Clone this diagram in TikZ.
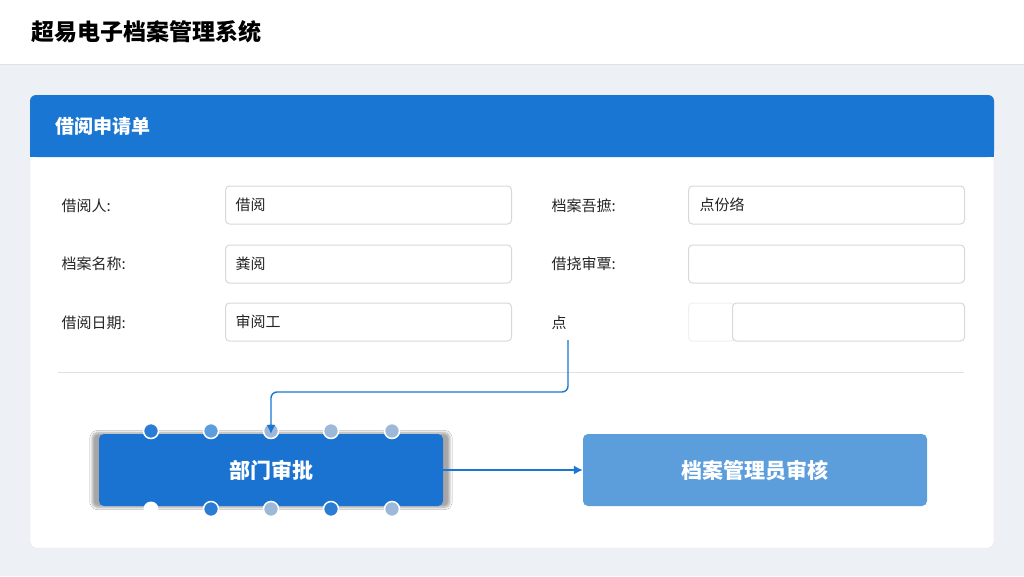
\documentclass[tikz,border=0pt]{standalone}
\usepackage{fontspec}
\setmainfont{Noto Sans CJK SC}
\usetikzlibrary{shadows.blur,arrows.meta}
\definecolor{bg}{HTML}{EDF1F6}
\definecolor{hblue}{HTML}{1976D2}
\definecolor{boxc}{HTML}{1A73D0}
\definecolor{lboxc}{HTML}{5C9EDC}
\definecolor{fieldc}{HTML}{D5D8DC}
\definecolor{dotd}{HTML}{2A7CD4}
\definecolor{dotl}{HTML}{9DB8D8}
\tikzset{
 lbl/.style={anchor=west,font=\fontsize{15}{15}\selectfont,text=black!85},
 fld/.style={draw=fieldc,line width=1pt,fill=white,rounded corners=4pt,minimum width=286pt,minimum height=38pt,anchor=west,inner sep=0pt},
 ftx/.style={anchor=west,font=\fontsize{15}{15}\selectfont,text=black!85},
 dot/.style={circle,draw=white,line width=1.5pt,minimum size=15pt,inner sep=0pt},
 arr/.style={draw=hblue,line width=1.4pt,-{Latex[length=9pt,width=9pt]}}
}
\begin{document}
\begin{tikzpicture}[x=1pt,y=-1pt]
\useasboundingbox (0,0) rectangle (1024,576);
\fill[bg] (0,0) rectangle (1024,576);
\fill[white] (0,0) rectangle (1024,64);
\draw[black!12] (0,64.5) -- (1024,64.5);
\node[anchor=west,font=\bfseries\fontsize{23}{23}\selectfont] (title) at (28,32) {超易电子档案管理系统};
% card
\fill[white,draw=black!12,rounded corners=6pt] (30,95) rectangle (994,548);
\fill[hblue,rounded corners=6pt] (30,95) rectangle (994,157);
\fill[hblue] (30,130) rectangle (994,157);
\node[anchor=west,text=white,font=\bfseries\fontsize{19}{19}\selectfont] (form) at (52,126) {借阅申请单};
% fields left
\node[lbl] (l1) at (58,206) {借阅人:};
\node[lbl] (l2) at (58,264) {档案名称:};
\node[lbl] (l3) at (58,323) {借阅日期:};
\node[fld] (f1) at (225,205) {};
\node[fld] (f2) at (225,264) {};
\node[fld] (f3) at (225,322) {};
\node[ftx] at (232,205) {借阅};
\node[ftx] at (232,264) {粪阅};
\node[ftx] at (232,322) {审阅工};
% right
\node[lbl] (r1) at (548,206) {档案吾摭:};
\node[lbl] (r2) at (548,264) {借挠审覃:};
\node[lbl] (r3) at (548,323) {点};
\node[fld,minimum width=276pt] (g1) at (688,205) {};
\node[fld,minimum width=276pt] (g2) at (688,264) {};
\node[fld,minimum width=46pt,draw=black!6] (g3a) at (688,322) {};
\node[fld,minimum width=232pt] (g3) at (732,322) {};
\node[ftx] at (696,205) {点份络};
% divider
\draw[black!12] (58,372) -- (964,372);
% boxes
\node[fill=boxc,rounded corners=5pt,minimum width=344pt,minimum height=72pt,text=white,font=\bfseries\fontsize{21}{21}\selectfont,blur shadow={shadow blur steps=8,shadow xshift=0pt,shadow yshift=0pt,shadow opacity=35,shadow scale=1.04}] (dept) at (271,470) {部门审批};
\node[fill=lboxc,rounded corners=5pt,minimum width=344pt,minimum height=72pt,text=white,font=\bfseries\fontsize{21}{21}\selectfont] (arch) at (755,470) {档案管理员审核};
% dots
\foreach \x/\c in {151/dotd,211/lboxc,271/dotl,331/dotl,392/dotl}{\node[dot,fill=\c] at (\x,431) {};}
\node[dot,fill=white,draw=none] at (151,509) {};
\foreach \x/\c in {211/dotd,271/dotl,331/dotd,392/dotl}{\node[dot,fill=\c] at (\x,509) {};}
% connectors
\coordinate (c1) at (568,340);
\draw[arr,rounded corners=6pt] (c1) -- (568,392) -- (271,392) -- (dept.north);
\draw[arr] (dept.east) -- (arch.west);
\end{tikzpicture}
\end{document}
